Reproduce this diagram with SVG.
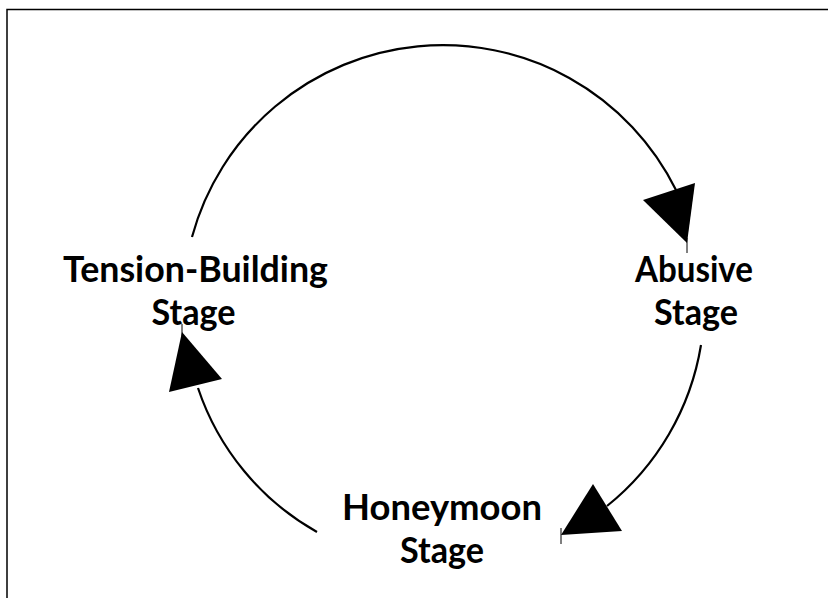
<svg xmlns="http://www.w3.org/2000/svg" width="828" height="598" viewBox="0 0 828 598">
<style>
.lbl{font-family:Lato,"Noto Sans","Liberation Sans",sans-serif;font-weight:700;font-size:36px;fill:#000;text-anchor:middle}
.arc{fill:none;stroke:#000;stroke-width:2.2}
.tick{stroke:#000;stroke-width:1}
.head{fill:#000;stroke:none}
</style>
<rect x="0" y="0" width="828" height="598" fill="#fff"/>
<rect x="7" y="9.5" width="900" height="700" fill="none" stroke="#000" stroke-width="1.5"/>
<g id="connectors">
<path class="arc" d="M192,237 A260,260 0 0 1 676,190"/>
<polygon class="head" points="643,200 695,183 687,243"/>
<line class="tick" x1="687" y1="238" x2="687" y2="253"/>
<path class="arc" d="M701,345 A260,260 0 0 1 607,506"/>
<polygon class="head" points="593,484 622,531 561,535"/>
<line class="tick" x1="561" y1="528" x2="561" y2="544"/>
<path class="arc" d="M317,532 A260,260 0 0 1 198,388"/>
<polygon class="head" points="182,332 222,379 169,392"/>
<line class="tick" x1="182" y1="324" x2="182" y2="336"/>
</g>
<g id="tension">
<text class="lbl" x="195.5" y="282" textLength="265" lengthAdjust="spacingAndGlyphs">Tension-Building</text>
<text class="lbl" x="193.5" y="325" textLength="84" lengthAdjust="spacingAndGlyphs">Stage</text>
</g>
<g id="abusive">
<text class="lbl" x="694" y="282" textLength="118" lengthAdjust="spacingAndGlyphs">Abusive</text>
<text class="lbl" x="696" y="325" textLength="84" lengthAdjust="spacingAndGlyphs">Stage</text>
</g>
<g id="honeymoon">
<text class="lbl" x="442" y="520" textLength="200" lengthAdjust="spacingAndGlyphs">Honeymoon</text>
<text class="lbl" x="442" y="563" textLength="84" lengthAdjust="spacingAndGlyphs">Stage</text>
</g>
</svg>
